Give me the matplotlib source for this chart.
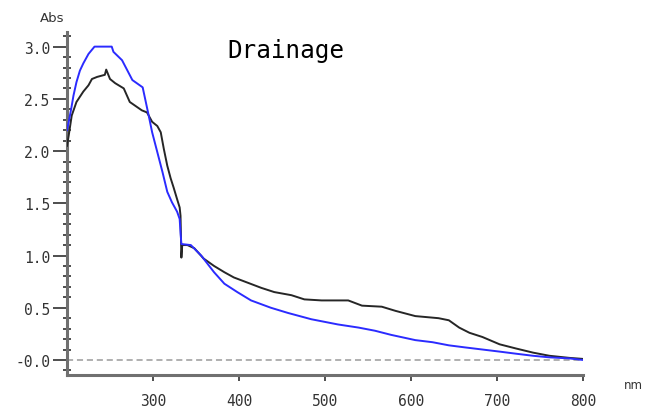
import matplotlib.pyplot as plt
import matplotlib.ticker as mtick
import numpy as np


#%% data (wavelength in nm, absorbance)

wl_black = [200, 202, 205.5, 211, 219, 225, 229, 235, 244, 245.6, 250, 256, 266,
            273, 280, 287, 293, 299, 305, 309, 312.6, 316.6, 320.5, 324, 328, 331,
            332, 333, 334, 340, 348, 359, 371, 383, 394, 410, 426, 441, 461, 476,
            496, 527, 543, 566, 582, 605, 632, 644, 656, 668, 683, 703, 722, 742,
            761, 784, 800]
abs_black = [2.05, 2.15, 2.34, 2.47, 2.57, 2.63, 2.69, 2.71, 2.73, 2.78, 2.69, 2.65,
             2.60, 2.47, 2.43, 2.39, 2.37, 2.28, 2.24, 2.18, 2.02, 1.86, 1.74, 1.65,
             1.54, 1.46, 1.38, 0.98, 1.10, 1.10, 1.07, 0.97, 0.90, 0.84, 0.79, 0.74,
             0.69, 0.65, 0.62, 0.58, 0.57, 0.57, 0.52, 0.51, 0.47, 0.42, 0.40, 0.38,
             0.31, 0.26, 0.22, 0.15, 0.11, 0.07, 0.04, 0.02, 0.01]

wl_blue = [200, 202, 205, 207.5, 211, 215, 219, 225, 232, 252, 254, 264, 276, 288,
           295, 299, 305, 311, 316.6, 322, 328, 331, 332, 333, 344, 356, 371, 383,
           398, 414, 437, 457, 484, 515, 539, 558, 577, 605, 625, 644, 663, 683,
           703, 722, 742, 761, 784, 800]
abs_blue = [2.20, 2.28, 2.41, 2.53, 2.66, 2.77, 2.84, 2.93, 3.00, 3.00, 2.95, 2.87,
            2.68, 2.61, 2.34, 2.18, 1.99, 1.80, 1.61, 1.51, 1.42, 1.35, 1.22, 1.11,
            1.10, 1.00, 0.84, 0.73, 0.65, 0.57, 0.50, 0.45, 0.39, 0.34, 0.31, 0.28,
            0.24, 0.19, 0.17, 0.14, 0.12, 0.10, 0.08, 0.06, 0.04, 0.025, 0.015, 0.0]

x_ticks = [300, 400, 500, 600, 700, 800]
y_ticks = [0.0, 0.5, 1.0, 1.5, 2.0, 2.5, 3.0]

title = 'Drainage'


#%% figure

W, H = 653, 410
fig = plt.figure(figsize=(W / 100, H / 100), dpi=100)
ax = fig.add_axes([67 / W, 1 - 376 / H, (583 - 67) / W, (376 - 33) / H])

ax.plot(wl_black, abs_black, color='#262626', lw=1.4, zorder=3)
ax.plot(wl_blue, abs_blue, color='#2b2bff', lw=1.4, zorder=4)

# zero baseline
ax.axhline(0, color='#9a9a9a', lw=1.1, ls=(0, (4, 2.5)), zorder=2)

ax.set_xlim(200, 800)
ax.set_ylim(-0.144, 3.14)

# ---------------- axes style ----------------
for side in ['top', 'right']:
    ax.spines[side].set_visible(False)
for side in ['left', 'bottom']:
    ax.spines[side].set_color('#707070')
    ax.spines[side].set_linewidth(2.2)

ax.set_xticks(x_ticks)
ax.set_yticks(y_ticks)
ax.yaxis.set_minor_locator(mtick.MultipleLocator(0.1))


def ylab(v, pos):
    if abs(v) < 1e-9:
        return '-0.0'
    return '%.1f' % v


ax.yaxis.set_major_formatter(mtick.FuncFormatter(ylab))

ax.tick_params(axis='y', which='major', direction='out', length=10, width=1.2,
               color='#303030', pad=2, labelsize=10.5, labelcolor='#333333')
ax.tick_params(axis='y', which='minor', direction='inout', length=6, width=1.2,
               color='#303030')
ax.tick_params(axis='x', which='major', direction='out', length=4, width=1.2,
               color='#303030', pad=9, labelsize=10.5, labelcolor='#333333')

for lab in ax.get_xticklabels() + ax.get_yticklabels():
    lab.set_family('DejaVu Sans Mono')

# ---------------- texts ----------------
fig.text(52 / W, 1 - 18 / H, 'Abs', ha='center', va='center', fontsize=9.5,
         color='#333333')
fig.text(633 / W, 1 - 386 / H, 'nm', ha='center', va='center', fontsize=8.5,
         color='#333333')
fig.text(227 / W, 1 - 58 / H, title, ha='left', va='baseline', fontsize=17.5,
         family='DejaVu Sans Mono', color='black')

plt.savefig('out.png', dpi=100)
